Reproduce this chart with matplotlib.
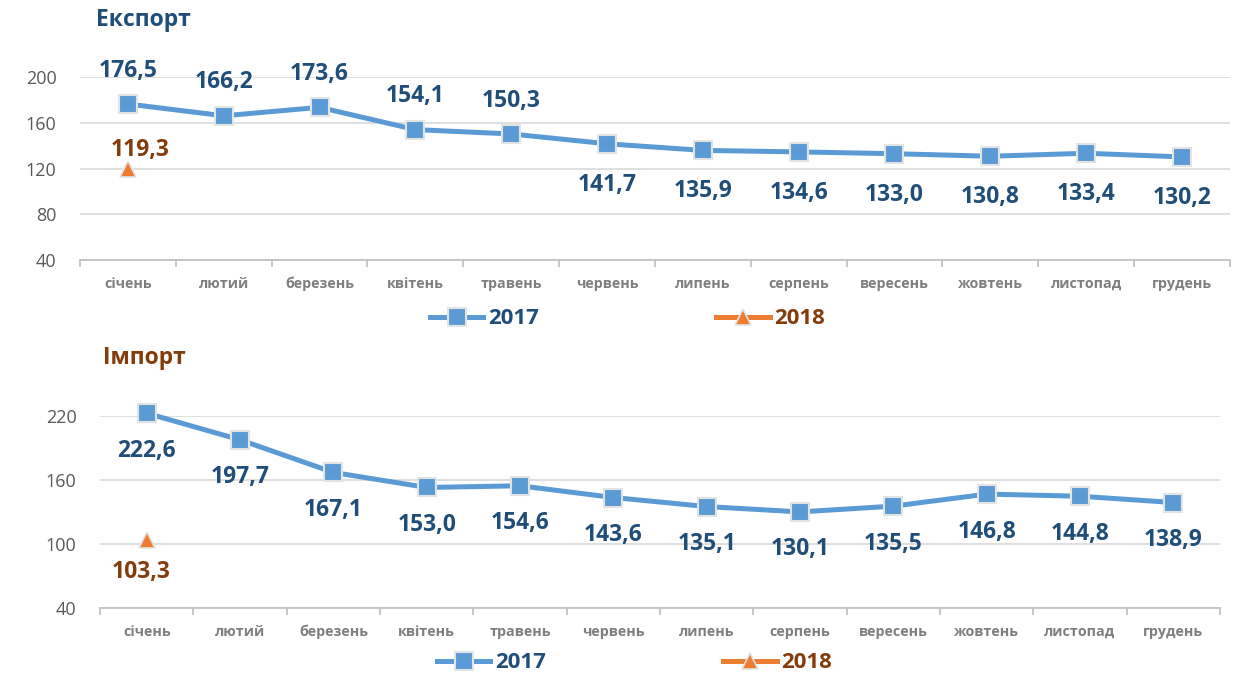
import numpy as np
import matplotlib
matplotlib.use("Agg")
from matplotlib import pyplot as plt
from matplotlib.lines import Line2D

plt.rcParams["font.family"] = ["Open Sans", "DejaVu Sans"]

months = ["січень", "лютий", "березень", "квітень", "травень", "червень",
          "липень", "серпень", "вересень", "жовтень", "листопад", "грудень"]
export2017 = [176.5, 166.2, 173.6, 154.1, 150.3, 141.7, 135.9, 134.6, 133.0, 130.8, 133.4, 130.2]
export2018 = [119.3]
import2017 = [222.6, 197.7, 167.1, 153.0, 154.6, 143.6, 135.1, 130.1, 135.5, 146.8, 144.8, 138.9]
import2018 = [103.3]

blue = "#5B9BD5"
darkBlue = "#1F4E79"
orange = "#ED7D31"
brown = "#843C0C"
grid = "#D9D9D9"


def fmt(v):
    return f"{v:.1f}".replace(".", ",")


def drawPanel(fig, rect, title, titleColor, titleX, titleY, data17, data18, yticks, above, belowOff,
              off18, legendY, legendX):
    ax = fig.add_axes(rect)
    x = np.arange(len(months))
    ax.plot(x, data17, color=blue, lw=3.6, marker="s", ms=13, mfc=blue, mec="#E3E3E3", mew=1.5,
            zorder=5, clip_on=False)
    x18 = np.arange(len(data18))
    ax.plot(x18, data18, color=orange, lw=3.6, marker="^", ms=12, mfc=orange, mec="#E3E3E3", mew=1.2,
            zorder=5, clip_on=False)
    for i, v in enumerate(data17):
        dy = 24 if above[i] else belowOff
        ax.annotate(fmt(v), (i, v), xytext=(0, dy), textcoords="offset points", ha="center", va="center",
                    fontsize=16.5, fontweight="bold", color=darkBlue, annotation_clip=False)
    for i, v in enumerate(data18):
        ax.annotate(fmt(v), (i, v), xytext=off18, textcoords="offset points",
                    ha="center", va="center", fontsize=16.5, fontweight="bold", color=brown,
                    annotation_clip=False)
    ax.set_xlim(-0.5, len(months) - 0.5)
    ax.set_ylim(yticks[0], yticks[-1])
    ax.set_yticks(yticks)
    ax.yaxis.grid(True, color=grid, lw=1.2)
    ax.set_axisbelow(True)
    for s in ["left", "right", "top"]:
        ax.spines[s].set_visible(False)
    ax.spines["bottom"].set_color("#BFBFBF")
    ax.spines["bottom"].set_linewidth(1.2)
    ax.set_xticks(x)
    ax.set_xticklabels(months, fontsize=10.3, fontweight="bold", color="#7F7F7F")
    ax.set_xticks(np.arange(len(months) + 1) - 0.5, minor=True)
    ax.tick_params(axis="x", which="major", length=0, pad=12)
    ax.tick_params(axis="x", which="minor", length=5, color="#BFBFBF", width=1.2)
    ax.tick_params(axis="y", length=0, pad=17, labelsize=13, labelcolor="#595959")
    fig.text(titleX, titleY, title, fontsize=16.5, fontweight="bold", color=titleColor, va="center")
    h17 = Line2D([], [], color=blue, lw=3.6, marker="s", ms=13, mfc=blue, mec="#E3E3E3", mew=1.5)
    h18 = Line2D([], [], color=orange, lw=3.6, marker="^", ms=12, mfc=orange, mec="#E3E3E3", mew=1.2)
    leg = fig.legend([h17, h18], ["2017", "2018"], loc="center left", bbox_to_anchor=(legendX, legendY),
                     ncol=2, frameon=False, handlelength=2.4, handletextpad=0.2, columnspacing=8.0,
                     prop={"size": 16, "weight": "bold"}, borderpad=0, borderaxespad=0)
    for t, c in zip(leg.get_texts(), [darkBlue, brown]):
        t.set_color(c)
    return ax


fig = plt.figure(figsize=(12.43, 6.77), dpi=100)

drawPanel(fig, [0.0644, 0.616, 0.925, 0.270], "Експорт", darkBlue, 0.077, 1 - 20 / 677,
          export2017, export2018, [40, 80, 120, 160, 200],
          [True, True, True, True, True, False, False, False, False, False, False, False],
          -29.5, (9, 14), 1 - 319 / 677, 430 / 1243)
drawPanel(fig, [0.0805, 0.1019, 0.901, 0.2836], "Імпорт", brown, 0.083, 1 - 358 / 677,
          import2017, import2018, [40, 100, 160, 220],
          [False] * 12,
          -27, (-4, -23), 1 - 663 / 677, 437 / 1243)

fig.savefig("out.png", dpi=100)
